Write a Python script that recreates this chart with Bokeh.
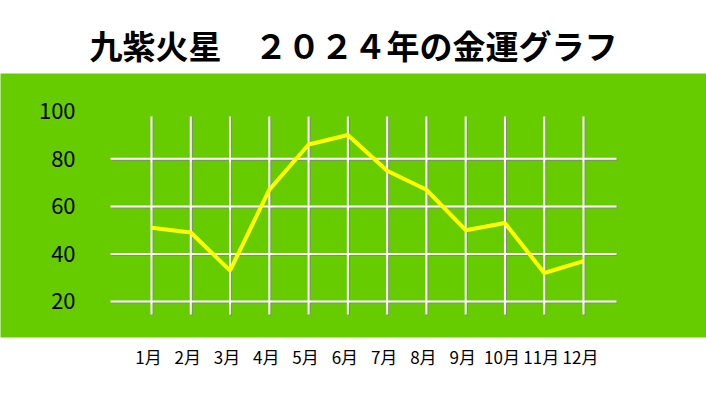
from bokeh.plotting import figure
from bokeh.models import FixedTicker, LinearAxis, Range1d, Title
from bokeh.core.properties import value
from bokeh.embed import file_html
from bokeh.resources import INLINE

title_text = "九紫火星　２０２４年の金運グラフ"
months = [1, 2, 3, 4, 5, 6, 7, 8, 9, 10, 11, 12]
month_labels = ["1月", "2月", "3月", "4月", "5月", "6月",
                "7月", "8月", "9月", "10月", "11月", "12月"]
kinun = [51, 49, 33, 67, 86, 90, 75, 67, 50, 53, 32, 37]
y_ticks = [20, 40, 60, 80, 100]
grid_y = [20, 40, 60, 80]

GREEN = "#66cc00"
FONT = "Noto Sans CJK JP"
X0, X1 = -2.845, 15.132
PX = 1 / 39.27   # one pixel in month units
PY = 1 / 2.378   # one pixel in value units

p = figure(
    width=706, height=404,
    x_range=(X0, X1), y_range=(4.86, 115.88),
    output_backend="svg", toolbar_location=None,
    min_border_left=0, min_border_right=0,
    min_border_top=73, min_border_bottom=67,
    x_axis_type=None, y_axis_type=None,
)
p.background_fill_color = GREEN
p.border_fill_color = "white"
p.outline_line_color = None
p.xgrid.visible = False
p.ygrid.visible = False

# the default title is only a spacer that lifts the real one a little
p.title.text = " "
p.title.text_font_size = "7px"
p.title.standoff = 0
p.add_layout(Title(text=title_text, align="center", offset=-6,
                   text_font=FONT, text_font_style="bold",
                   text_font_size="33px", text_color="black"), "above")

# grid drawn by hand so the lines stop where they do in the picture
p.segment(x0=[m + PX for m in months], x1=[m + PX for m in months],
          y0=14.53 - PY, y1=97.8 - PY, color="#7d8f6a", line_width=2)
p.segment(x0=-0.044 + PX, x1=12.84 + PX,
          y0=[g - PY for g in grid_y], y1=[g - PY for g in grid_y],
          color="#7d8f6a", line_width=2)
p.segment(x0=months, x1=months, y0=14.53, y1=97.8, color="white", line_width=2)
p.segment(x0=-0.044, x1=12.84, y0=grid_y, y1=grid_y, color="white", line_width=2)

p.line(months, kinun, color="#ffff00", line_width=4)

# y labels sit inside the green band
p.text(x=[-1.01 + 3 * PX] * len(y_ticks), y=y_ticks, text=[str(t) for t in y_ticks],
       text_align="right", text_baseline="middle", text_color="black",
       text_font=value(FONT), text_font_size="22px")

# month labels sit a touch left of their grid lines
p.extra_x_ranges = {"lab": Range1d(X0 + 3 * PX, X1 + 3 * PX)}
ax = LinearAxis(x_range_name="lab", ticker=FixedTicker(ticks=months))
ax.major_label_overrides = {m: lab for m, lab in zip(months, month_labels)}
ax.axis_line_color = None
ax.major_tick_line_color = None
ax.minor_tick_line_color = None
ax.major_tick_out = 0
ax.minor_tick_out = 0
ax.major_label_standoff = 6
ax.major_label_text_font = FONT
ax.major_label_text_font_size = "17px"
ax.major_label_text_color = "black"
p.add_layout(ax, "below")

open("out.html", "w").write(file_html(p, INLINE))
